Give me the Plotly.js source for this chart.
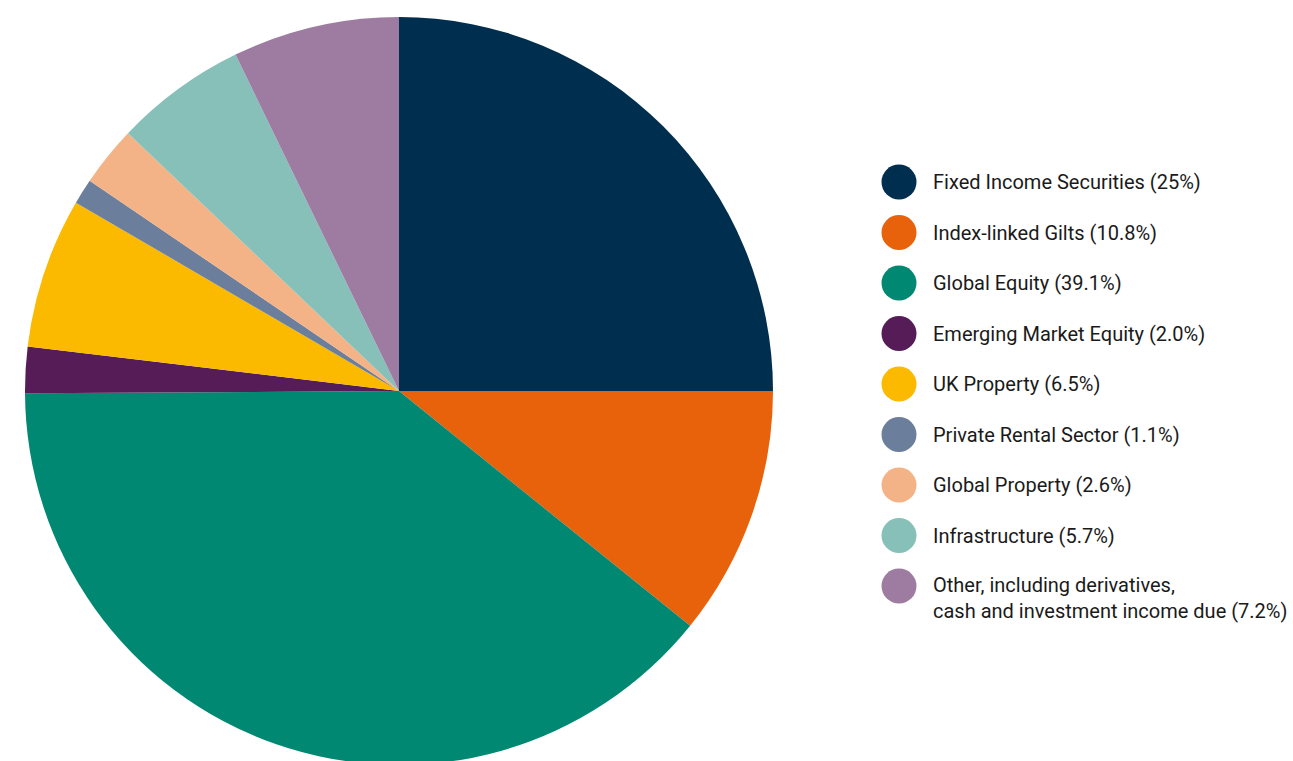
<!DOCTYPE html>
<html>
<head>
<meta charset="utf-8">
<script src="https://cdn.plot.ly/plotly-3.0.1.min.js"></script>
<style>
html,body{margin:0;padding:0;background:#fff;overflow:hidden;}
#chart{width:1293px;height:765px;}
</style>
</head>
<body>
<div id="chart"></div>
<script>
const categories = [
  "Fixed Income Securities",
  "Index-linked Gilts",
  "Global Equity",
  "Emerging Market Equity",
  "UK Property",
  "Private Rental Sector",
  "Global Property",
  "Infrastructure",
  "Other, including derivatives,<br>cash and investment income due"
];
const values = [25, 10.8, 39.1, 2.0, 6.5, 1.1, 2.6, 5.7, 7.2];
const valueLabels = ["25%", "10.8%", "39.1%", "2.0%", "6.5%", "1.1%", "2.6%", "5.7%", "7.2%"];
const colors = ["#002e4e", "#e8620c", "#008872", "#561c58", "#fbb900", "#6b7f9c", "#f4b386", "#86c0b8", "#9e7ca2"];

const W = 1293, H = 765;
const trace = {
  type: "pie",
  labels: categories,
  values: values,
  sort: false,
  direction: "clockwise",
  rotation: 0,
  textinfo: "none",
  hoverinfo: "label+percent",
  marker: {colors: colors, line: {width: 0}},
  domain: {x: [25 / W, 773 / W], y: [0, 1 - 17 / H]},
  showlegend: false
};

const rowY = [182, 232.5, 283, 333.5, 384, 434.5, 485, 535.5, 586];
const shapes = [];
const annotations = [];
categories.forEach((c, i) => {
  const py = 1 - rowY[i] / H;
  shapes.push({
    type: "circle", xref: "paper", yref: "paper",
    xsizemode: "pixel", ysizemode: "pixel",
    xanchor: 899 / W, yanchor: py,
    x0: -17.5, x1: 17.5, y0: -17.5, y1: 17.5,
    fillcolor: colors[i], line: {width: 0}
  });
  const multi = c.indexOf("<br>") >= 0;
  annotations.push({
    xref: "paper", yref: "paper",
    x: 931 / W, y: multi ? 1 - (rowY[i] + 11.5) / H : py,
    xanchor: "left", yanchor: "middle", align: "left",
    showarrow: false,
    text: c + " (" + valueLabels[i] + ")",
    font: {family: "Roboto, 'DejaVu Sans', sans-serif", size: 20, color: "#1a1a1a"}
  });
});

const layout = {
  width: W, height: H,
  margin: {l: 0, r: 0, t: 0, b: 0},
  paper_bgcolor: "#ffffff",
  plot_bgcolor: "#ffffff",
  showlegend: false,
  shapes: shapes,
  annotations: annotations
};

Plotly.newPlot("chart", [trace], layout, {displayModeBar: false, staticPlot: true});
</script>
</body>
</html>
